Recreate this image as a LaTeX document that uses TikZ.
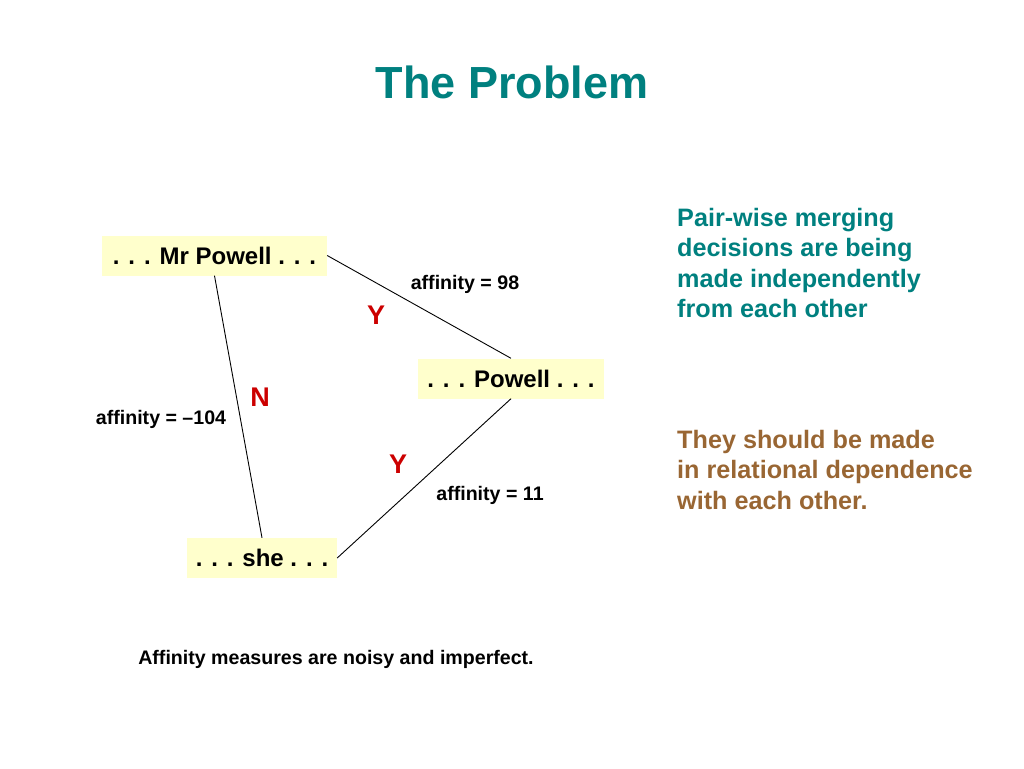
\documentclass[tikz,border=0pt]{standalone}
\usepackage{fontspec}
\setmainfont{Liberation Sans}
\usepackage{tikz}
\definecolor{teal}{RGB}{0,128,127}
\definecolor{brownish}{RGB}{153,102,51}
\definecolor{boxfill}{RGB}{255,255,204}
\definecolor{decred}{RGB}{204,0,0}
\tikzstyle{mention}=[fill=boxfill, inner sep=0pt, minimum height=40pt, font=\fontsize{24}{28}\selectfont\bfseries]
\tikzstyle{affin}=[inner sep=0pt, font=\fontsize{19.6}{23}\selectfont\bfseries]
\tikzstyle{decision}=[inner sep=0pt, text=decred, font=\fontsize{27}{30}\selectfont\bfseries]
\tikzstyle{remark}=[inner sep=0pt, anchor=north west, align=left, font=\fontsize{25.2}{30.5}\selectfont\bfseries]

\begin{document}
\begin{tikzpicture}[x=1pt, y=-1pt]
        \useasboundingbox (0, 0) rectangle (1024, 768);
        \node[text=teal, font=\fontsize{45}{50}\selectfont\bfseries] (title) at (512, 82) {The Problem};
        \node[mention, minimum width=225pt] (MrPowell) at (214.5, 255.5) {. . . Mr Powell . . .};
        \node[mention, minimum width=186pt] (Powell) at (511, 378.5) {. . . Powell . . .};
        \node[mention, minimum width=150pt] (she) at (262, 558) {. . . she . . .};
        \draw[line width=0.9pt] (MrPowell.east) -- (Powell.north);
        \draw[line width=0.9pt] (MrPowell.south) -- (she.north);
        \draw[line width=0.9pt] (Powell.south) -- (she.east);
        \node[affin] (a98) at (465, 284) {affinity = 98};
        \node[affin] (a104) at (161, 419) {affinity = \textendash104};
        \node[affin] (a11) at (490, 495) {affinity = 11};
        \node[decision] (Y1) at (376, 315) {Y};
        \node[decision] (N) at (260, 397) {N};
        \node[decision] (Y2) at (398, 464) {Y};
        \node[remark, text=teal] (indep) at (677, 208) {Pair-wise merging\\decisions are being\\made independently\\from each other};
        \node[remark, text=brownish] (relat) at (677, 430) {They should be made\\in relational dependence\\with each other.};
        \node[affin] (noisy) at (336, 659) {Affinity measures are noisy and imperfect.};
    \end{tikzpicture}
\end{document}
